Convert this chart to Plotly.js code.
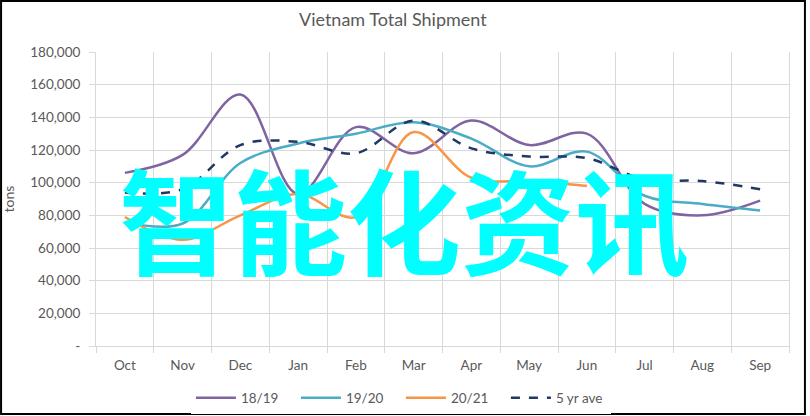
<!DOCTYPE html>
<html>
<head>
<meta charset="utf-8">
<script src="https://cdn.plot.ly/plotly-3.0.1.min.js"></script>
<style>html,body{margin:0;padding:0;background:#fff;}#chart{width:810px;height:416px;}</style>
</head>
<body>
<div id="chart"></div>
<script>
const months = ["Oct","Nov","Dec","Jan","Feb","Mar","Apr","May","Jun","Jul","Aug","Sep"];
const s1819 = [106000,117000,154000,93000,134000,118000,138000,123000,130000,87000,80000,89000];
const s1920 = [76000,75000,112000,124000,130000,137000,127000,110000,119000,92000,87000,83000];
const s2021 = [79000,65000,80000,93000,79000,131000,103000,101000,98000,null,null,null];
const s5yr  = [94000,96000,123000,125000,118000,138000,121000,116000,115000,102000,101000,96000];
const yTickVals = [0,20000,40000,60000,80000,100000,120000,140000,160000,180000];
const yTickText = ["-","20,000","40,000","60,000","80,000","100,000","120,000","140,000","160,000","180,000"];
const seriesNames = ["18/19","19/20","20/21","5 yr ave"];
const watermark = "智能化资讯";

const mk = (y, name, color, dash) => ({
  x: months, y: y, name: name, type: "scatter", mode: "lines",
  line: {color: color, width: 2.5, shape: "spline", smoothing: 1, dash: dash || "solid"},
  connectgaps: false, hoverinfo: "skip"
});
const traces = [
  mk(s1819, seriesNames[0], "#8064A2"),
  mk(s1920, seriesNames[1], "#4BACC6"),
  mk(s2021, seriesNames[2], "#F79646"),
  mk(s5yr, seriesNames[3], "#1F3864", "dash")
];
const grey = "#595959";
const layout = {
  width: 810, height: 416,
  margin: {l: 96, r: 21, t: 52, b: 70, autoexpand: false},
  paper_bgcolor: "#fff", plot_bgcolor: "#fff",
  font: {family: "Lato, 'Open Sans', sans-serif", color: grey, size: 13},
  title: {text: "Vietnam Total Shipment", font: {size: 18, color: grey}, x: 0.485, xref: "container", xanchor: "center", y: 0.952, yref: "container", yanchor: "middle"},
  xaxis: {type: "category", tickson: "boundaries", showgrid: true, gridcolor: "#d9d9d9", gridwidth: 1,
          showline: true, linecolor: "#d9d9d9", linewidth: 1, ticks: "outside", ticklen: 6, tickcolor: "#d9d9d9",
          tickfont: {size: 13.5, color: grey}, ticklabelstandoff: 7, range: [-0.5, 11.5], fixedrange: true, zeroline: false},
  yaxis: {range: [0, 180000], tickvals: yTickVals, ticktext: yTickText, showgrid: true, gridcolor: "#d9d9d9", gridwidth: 1,
          showline: true, mirror: true, linecolor: "#d9d9d9", ticks: "outside", ticklen: 6, tickcolor: "#d9d9d9",
          tickfont: {size: 13.5, color: grey}, ticklabelstandoff: 6, zeroline: false, fixedrange: true,
          title: {text: "tons", font: {size: 14, color: grey}, standoff: 12}},
  showlegend: true,
  legend: {orientation: "h", x: 0.44, xanchor: "center", y: -0.177, yanchor: "middle", font: {size: 13.5, color: grey},
           itemwidth: 40, entrywidth: 50, entrywidthmode: "pixels", tracegroupgap: 0},
  shapes: [{type: "rect", xref: "paper", yref: "paper", x0: -0.137, x1: 1.023, y0: -0.231, y1: 1.1735, line: {color: "#000", width: 2}, fillcolor: "rgba(0,0,0,0)", layer: "above"}],
  annotations: [{text: watermark, xref: "paper", yref: "paper", x: (404-96)/693, y: (346-216)/294, xanchor: "center", yanchor: "middle", showarrow: false,
                 font: {family: "'Noto Sans CJK SC'", size: 114, color: "#00FFFF", weight: "bold"}}]
};
Plotly.newPlot("chart", traces, layout, {staticPlot: true});
</script>
</body>
</html>
